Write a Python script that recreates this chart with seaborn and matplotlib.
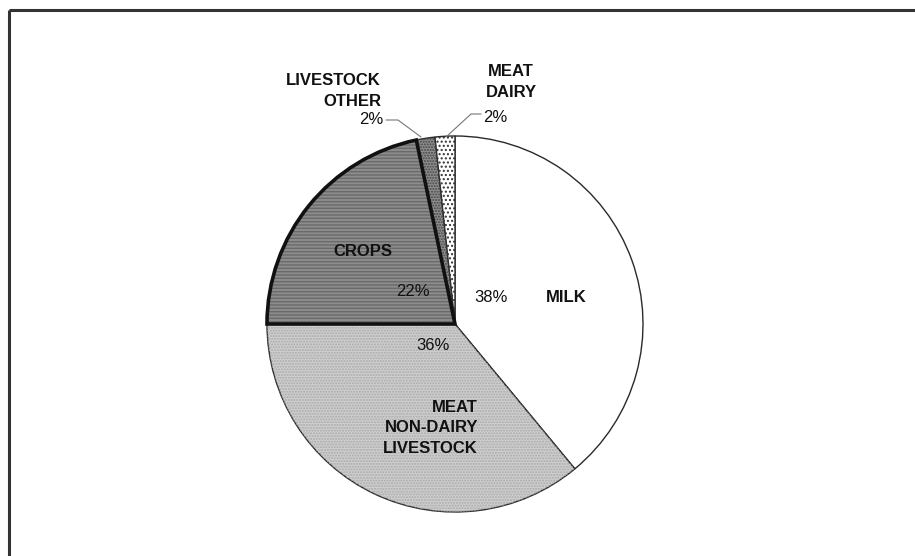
import matplotlib
matplotlib.use("Agg")
import matplotlib.pyplot as plt
import seaborn as sns
from matplotlib.patches import Wedge

# slices, clockwise from 12 o'clock (angles)
categories = ["MILK", "MEAT\nNON-DAIRY\nLIVESTOCK", "CROPS", "LIVESTOCK\nOTHER", "MEAT\nDAIRY"]
shares = [39.0, 36.0, 21.7, 1.6, 1.7]
pct_labels = ["38%", "36%", "22%", "2%", "2%"]

W, H = 915, 556


def py(y):
    # pixel row (from top) -> data y
    return H - y


sns.set_style("white")
plt.rcParams["font.family"] = ["Liberation Sans", "DejaVu Sans"]

fig = plt.figure(figsize=(W / 100, H / 100), dpi=100)
ax = fig.add_axes([0, 0, 1, 1])

face = ["white", "#cfcfcf", "#8c8c8c", "#8f8f8f", "white"]
hatch = [None, "......", "-----", "......", "...."]
hatch_col = [None, "#a9a9a9", "#6a6a6a", "#444444", "#333333"]

wedges, _ = ax.pie(shares, startangle=90, counterclock=False,
                   center=(455, py(324)), radius=188, colors=face,
                   wedgeprops=dict(edgecolor="#2a2a2a", linewidth=1.0))

# texture overlays
for w, h, hc in zip(wedges, hatch, hatch_col):
    if h is None:
        continue
    ov = Wedge(w.center, w.r, w.theta1, w.theta2, facecolor="none",
               edgecolor=hc, hatch=h, linewidth=0)
    ax.add_patch(ov)

# crops slice has a heavy outline
cw = wedges[2]
ax.add_patch(Wedge(cw.center, cw.r, cw.theta1, cw.theta2, facecolor="none",
                   edgecolor="#111111", linewidth=2.6, zorder=5))

ax.set_xlim(0, W)
ax.set_ylim(0, H)
ax.set_aspect("equal")
ax.axis("off")

bold = dict(fontsize=12, fontweight="bold", color="#111111", linespacing=1.45)
reg = dict(fontsize=12, color="#111111")

# category names
ax.text(566, py(298), categories[0], ha="center", va="center", **bold)
ax.text(478, py(428), categories[1], ha="right", va="center", multialignment="right", **bold)
ax.text(363, py(252), categories[2], ha="center", va="center", **bold)
ax.text(381, py(91), categories[3], ha="right", va="center", multialignment="right", **bold)
ax.text(511, py(82), categories[4], ha="center", va="center", multialignment="center", **bold)

# percentages
ax.text(491, py(298), pct_labels[0], ha="center", va="center", **reg)
ax.text(433, py(345), pct_labels[1], ha="center", va="center", **reg)
ax.text(413, py(291), pct_labels[2], ha="center", va="center", **reg)
ax.text(383, py(119), pct_labels[3], ha="right", va="center", **reg)
ax.text(483, py(117), pct_labels[4], ha="left", va="center", **reg)

# leader lines for the small slices
ax.plot([386, 398, 421], [py(120), py(120), py(137)], color="#777777", lw=0.8)
ax.plot([481, 471, 446], [py(114), py(114), py(137)], color="#777777", lw=0.8)

# frame (top and left edges)
ax.plot([8.5, W], [py(10), py(10)], color="#333333", lw=2.2, solid_capstyle="butt")
ax.plot([8.5, 8.5], [py(10), 0], color="#333333", lw=2.2, solid_capstyle="butt")

fig.savefig("out.png", dpi=100)
